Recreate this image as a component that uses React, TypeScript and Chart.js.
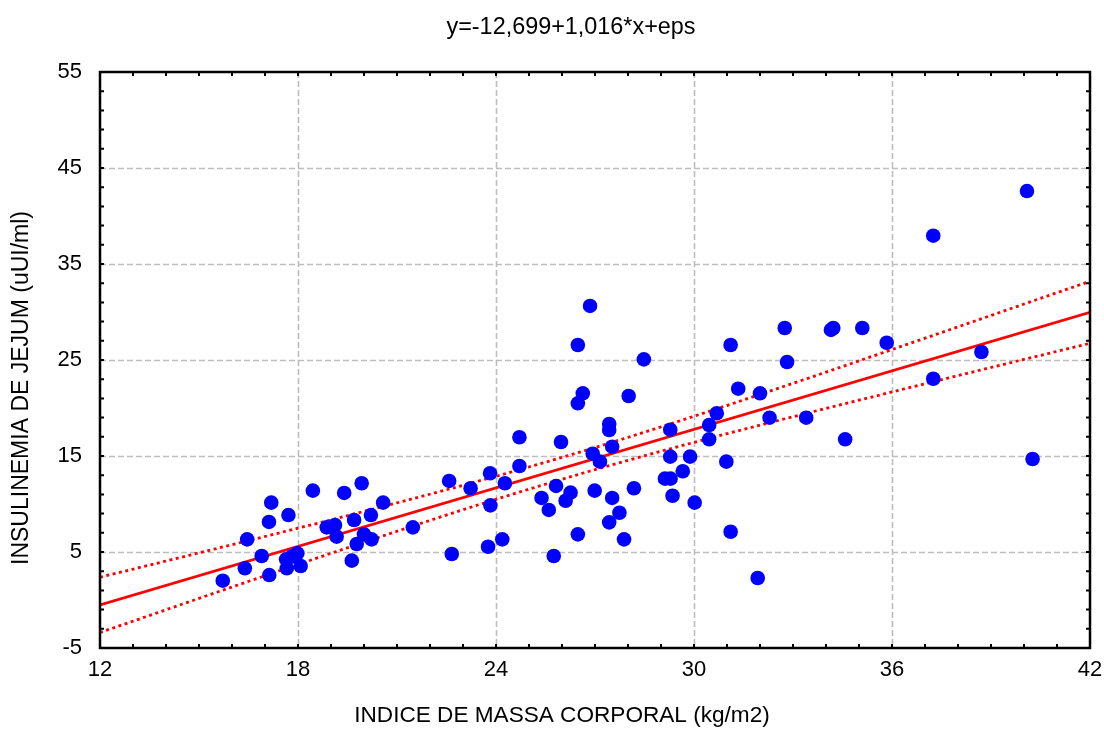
import React, { useEffect, useRef } from "react";
import { Chart, registerables } from "chart.js";

Chart.register(...registerables);

// Observations: body-mass index (x) and fasting insulin (y)
const bmi = [
  15.72, 16.39, 16.46, 16.9, 17.13, 17.12, 17.19, 17.71, 17.64, 17.66,
  17.81, 17.98, 18.08, 18.45, 18.87, 19.12, 19.17, 19.4, 19.7, 19.93,
  19.78, 19.63, 20.0, 20.23, 20.21, 20.58, 21.48, 22.58, 22.66, 23.23,
  23.82, 23.83, 23.76, 24.27, 24.19, 24.71, 24.71, 25.38, 25.6, 25.75,
  25.82, 25.97, 26.11, 26.26, 26.48, 26.48, 26.63, 26.48, 26.85, 26.93,
  26.99, 27.15, 27.43, 27.43, 27.52, 27.52, 27.43, 27.74, 27.88, 28.02,
  28.18, 28.48, 29.12, 29.29, 29.28, 29.28, 29.35, 29.66, 29.88, 30.02,
  30.46, 30.46, 30.69, 30.98, 31.11, 31.11, 31.34, 31.93, 32.0, 32.29,
  32.75, 32.82, 33.4, 34.15, 34.22, 34.58, 35.1, 35.84, 37.25, 37.25,
  38.71, 40.09, 40.26,
];
const insulin = [
  2.01, 3.3, 6.32, 4.58, 2.6, 8.13, 10.14, 8.85, 4.24, 3.3,
  4.51, 4.86, 3.54, 11.39, 7.57, 7.81, 6.6, 11.15, 8.33, 12.16,
  5.83, 4.1, 6.84, 6.32, 8.85, 10.14, 7.57, 12.4, 4.79, 11.64,
  13.2, 9.86, 5.55, 12.16, 6.32, 16.95, 13.96, 10.63, 9.38, 4.58,
  11.88, 16.46, 10.34, 11.18, 26.56, 20.49, 21.53, 6.84, 30.63, 15.24,
  11.39, 14.41, 18.33, 17.71, 15.97, 10.63, 8.09, 9.09, 6.32, 21.25,
  11.64, 25.07, 12.64, 12.64, 17.74, 14.93, 10.86, 13.41, 14.93, 10.14,
  18.23, 16.74, 19.45, 14.41, 26.56, 7.11, 22.01, 2.29, 21.53, 18.99,
  28.33, 24.79, 18.99, 28.13, 28.33, 16.74, 28.33, 26.8, 37.95, 23.05,
  25.83, 42.6, 14.69,
];

// Fitted line y = -12,699 + 1,016 * x  (end points)
const fitX = [12, 42];
const fitY = [-0.51, 29.97];

// 95% confidence band
const bandX = [12, 15, 18, 21, 24, 27, 30, 33, 36, 39, 42];
const bandUpper = [2.37, 4.91, 7.48, 10.12, 12.89, 15.88, 19.14, 22.57, 26.09, 29.64, 33.2];
const bandLower = [-3.39, 0.17, 3.7, 7.16, 10.49, 13.58, 16.42, 19.09, 21.67, 24.22, 26.74];

const xTicks = [12, 18, 24, 30, 36, 42];
const yTicks = [-5, 5, 15, 25, 35, 45, 55];
const xMinorTicks = [12, 13, 14, 15, 16, 17, 18, 19, 20, 21, 22, 23, 24, 25, 26, 27, 28, 29, 30, 31, 32, 33, 34, 35, 36, 37, 38, 39, 40, 41, 42];
const yMinorTicks = [-5, -3, -1, 1, 3, 5, 7, 9, 11, 13, 15, 17, 19, 21, 23, 25, 27, 29, 31, 33, 35, 37, 39, 41, 43, 45, 47, 49, 51, 53, 55];

const chartTitle = "y=-12,699+1,016*x+eps";
const xTitle = "INDICE DE MASSA CORPORAL (kg/m2)";
const yTitle = "INSULINEMIA DE JEJUM (uUI/ml)";

const FONT = "'Liberation Sans', Arial, sans-serif";

const framePlugin = {
  id: "statFrame",
  beforeDatasetsDraw(chart: any) {
    const { ctx, chartArea: a, scales } = chart;
    const xs = scales.x;
    const ys = scales.y;
    ctx.save();
    ctx.strokeStyle = "#bdbdbd";
    ctx.lineWidth = 1.6;
    ctx.setLineDash([6, 3]);
    xTicks.slice(1, -1).forEach((v) => {
      const px = Math.round(xs.getPixelForValue(v)) + 0.5;
      ctx.beginPath();
      ctx.moveTo(px, a.top);
      ctx.lineTo(px, a.bottom);
      ctx.stroke();
    });
    yTicks.slice(1, -1).forEach((v) => {
      const py = Math.round(ys.getPixelForValue(v)) + 0.5;
      ctx.beginPath();
      ctx.moveTo(a.left, py);
      ctx.lineTo(a.right, py);
      ctx.stroke();
    });
    ctx.restore();
  },
  afterDatasetsDraw(chart: any) {
    const { ctx, chartArea: a, scales } = chart;
    const xs = scales.x;
    const ys = scales.y;
    ctx.save();
    ctx.strokeStyle = "#000";
    ctx.setLineDash([]);
    ctx.lineWidth = 2;
    const t = 4;
    xMinorTicks.forEach((v) => {
      const px = xs.getPixelForValue(v);
      ctx.beginPath();
      ctx.moveTo(px, a.bottom);
      ctx.lineTo(px, a.bottom - t);
      ctx.moveTo(px, a.top);
      ctx.lineTo(px, a.top + t);
      ctx.stroke();
    });
    yMinorTicks.forEach((v) => {
      const py = ys.getPixelForValue(v);
      ctx.beginPath();
      ctx.moveTo(a.left, py);
      ctx.lineTo(a.left + t, py);
      ctx.moveTo(a.right, py);
      ctx.lineTo(a.right - t, py);
      ctx.stroke();
    });
    ctx.lineWidth = 2.5;
    ctx.strokeRect(a.left, a.top, a.right - a.left, a.bottom - a.top);
    ctx.restore();
  },
  afterDraw(chart: any) {
    const { ctx } = chart;
    ctx.save();
    ctx.fillStyle = "#000";
    ctx.textAlign = "center";
    ctx.textBaseline = "middle";
    ctx.font = `23.4px ${FONT}`;
    ctx.fillText(chartTitle, 571, 28);
    ctx.font = `22.6px ${FONT}`;
    ctx.fillText(xTitle, 562, 716);
    ctx.font = `23px ${FONT}`;
    ctx.translate(22, 388);
    ctx.rotate(-Math.PI / 2);
    ctx.fillText(yTitle, 0, 0);
    ctx.restore();
  },
};

export default function App() {
  const canvasRef = useRef<HTMLCanvasElement | null>(null);

  useEffect(() => {
    const canvas = canvasRef.current;
    if (!canvas) return;
    const points = bmi.map((x, i) => ({ x, y: insulin[i] }));
    const fit = fitX.map((x, i) => ({ x, y: fitY[i] }));
    const upper = bandX.map((x, i) => ({ x, y: bandUpper[i] }));
    const lower = bandX.map((x, i) => ({ x, y: bandLower[i] }));

    const chart = new Chart(canvas, {
      type: "scatter",
      data: {
        datasets: [
          {
            label: "Observações",
            data: points,
            backgroundColor: "#0000ff",
            borderWidth: 0,
            pointRadius: 7.3,
            pointHoverRadius: 7.3,
            order: 0,
          },
          {
            label: "Regressão",
            type: "line",
            data: fit,
            borderColor: "#ff0000",
            borderWidth: 2.7,
            pointRadius: 0,
            fill: false,
            order: 1,
          },
          {
            label: "IC 95% sup.",
            type: "line",
            data: upper,
            borderColor: "#ff0000",
            borderWidth: 2.8,
            borderDash: [3, 3.5],
            pointRadius: 0,
            cubicInterpolationMode: "monotone",
            fill: false,
            order: 2,
          },
          {
            label: "IC 95% inf.",
            type: "line",
            data: lower,
            borderColor: "#ff0000",
            borderWidth: 2.8,
            borderDash: [3, 3.5],
            pointRadius: 0,
            cubicInterpolationMode: "monotone",
            fill: false,
            order: 3,
          },
        ],
      },
      options: {
        responsive: false,
        animation: false,
        devicePixelRatio: 1,
        layout: { padding: { top: 72, right: 14, left: 0, bottom: 0 } },
        plugins: {
          legend: { display: false },
          tooltip: { enabled: false },
          title: { display: false },
        },
        scales: {
          x: {
            type: "linear",
            min: 12,
            max: 42,
            grid: { display: false, drawTicks: false },
            border: { display: false },
            afterFit: (s: any) => {
              s.height = 81;
              s.paddingLeft = 0;
              s.paddingRight = 0;
            },
            afterBuildTicks: (s: any) => {
              s.ticks = xTicks.map((v) => ({ value: v }));
            },
            ticks: {
              color: "#000",
              padding: 9,
              maxRotation: 0,
              autoSkip: false,
              font: { family: FONT, size: 22 },
            },
          },
          y: {
            type: "linear",
            min: -5,
            max: 55,
            grid: { display: false, drawTicks: false },
            border: { display: false },
            afterFit: (s: any) => {
              s.width = 100;
              s.paddingTop = 0;
              s.paddingBottom = 0;
            },
            afterBuildTicks: (s: any) => {
              s.ticks = yTicks.map((v) => ({ value: v }));
            },
            ticks: {
              color: "#000",
              padding: 18,
              autoSkip: false,
              font: { family: FONT, size: 22 },
            },
          },
        },
      },
      plugins: [framePlugin],
    } as any);

    return () => chart.destroy();
  }, []);

  return (
    <div style={{ position: "absolute", left: 0, top: 0, width: 1104, height: 729, background: "#fff" }}>
      <canvas ref={canvasRef} width={1104} height={729} style={{ display: "block" }} />
    </div>
  );
}
